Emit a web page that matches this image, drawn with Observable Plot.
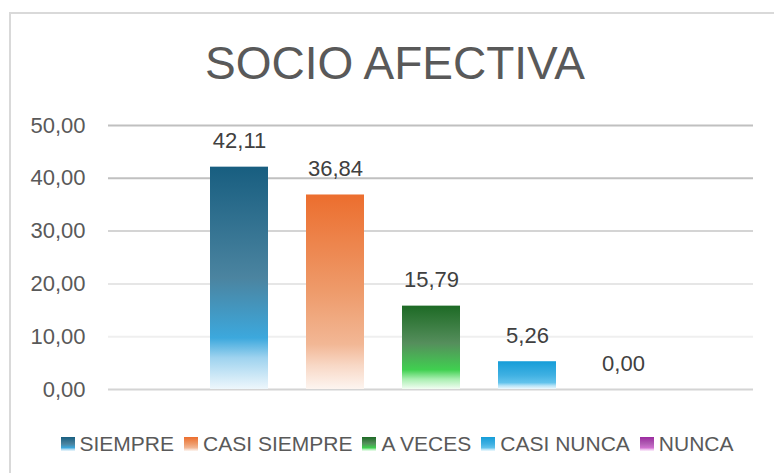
<!DOCTYPE html>
<html>
<head>
<meta charset="utf-8">
<script src="https://cdn.jsdelivr.net/npm/d3@7"></script>
<script src="https://cdn.jsdelivr.net/npm/@observablehq/plot@0.6"></script>
<style>
  body { margin: 0; background: #fff; font-family: "Liberation Sans", Arial, sans-serif; }
  #wrap { position: relative; width: 774px; height: 473px; overflow: hidden; background: #fff; }
  #frame { position: absolute; left: 9px; top: 12px; width: 800px; height: 500px;
           border-left: 2px solid #d9d9d9; border-top: 2px solid #d9d9d9; }
  #title { position: absolute; left: 9px; width: 772px; top: 41px; text-align: center;
           font-size: 46px; line-height: 45px; color: #595959; white-space: nowrap; }
  #chart { position: absolute; left: 0; top: 100px; }
  #legend { position: absolute; left: 9px; width: 776px; top: 433px; display: flex;
            justify-content: center; align-items: center; font-size: 21px; line-height: 21px;
            color: #595959; white-space: nowrap; }
  .item { display: flex; align-items: center; margin: 0 5px; }
  .sw { width: 14px; height: 14px; margin-right: 5px; }
</style>
</head>
<body>
<div id="wrap">
  <div id="frame"></div>
  <div id="title">SOCIO AFECTIVA</div>
  <div id="chart"></div>
  <div id="legend"></div>
</div>
<script>
// ---- data ----
const categories = ["SIEMPRE", "CASI SIEMPRE", "A VECES", "CASI NUNCA", "NUNCA"];
const values = [42.11, 36.84, 15.79, 5.26, 0.00];
const yTicks = [0, 10, 20, 30, 40, 50];

// ---- styles ----
const gradients = [
  [[0, "#185e80"], [0.5, "#4b84a0"], [0.77, "#3ca8dd"], [0.86, "#9fd3ef"], [1, "#eef7fc"]],
  [[0, "#ec6e2e"], [0.5, "#ee9b6b"], [0.77, "#f2b795"], [0.88, "#f8d8c6"], [1, "#fdf5f0"]],
  [[0, "#1d6a25"], [0.45, "#558e5c"], [0.77, "#40d050"], [0.88, "#a8eeb0"], [1, "#f2fdf3"]],
  [[0, "#159dd8"], [0.5, "#3fb0e2"], [0.77, "#62c3ec"], [0.88, "#b5e3f7"], [1, "#eef9fe"]],
  [[0, "#9c2ba0"], [0.5, "#b25fb5"], [0.77, "#d070d0"], [0.88, "#ebb8eb"], [1, "#fcf0fc"]]
];
const gridColor = d => d >= 40 ? "#c0c0c0" : d === 30 ? "#d4d4d4" : d === 20 ? "#e6e6e6" : d === 10 ? "#efefef" : "#d4d4d4";

const data = categories.map((c, i) => ({category: c, value: values[i]}));
const fmt = d => d.toFixed(2).replace(".", ",");
const gradIds = categories.map((c, i) => "grad" + i);

const chart = Plot.plot({
  width: 774,
  height: 320,
  marginTop: 25,
  marginBottom: 31,
  marginLeft: 108,
  marginRight: 21,
  style: {fontSize: "22px", fontFamily: "'Liberation Sans', Arial, sans-serif", color: "#595959", background: "transparent"},
  x: {domain: categories, range: [188.6, 672.4], paddingInner: 0.4, paddingOuter: 0.2, axis: null},
  y: {domain: [0, 50], axis: null},
  color: {domain: categories, range: gradIds.map(id => `url(#${id})`)},
  marks: [
    Plot.ruleY(yTicks, {y: d => d, stroke: d => gridColor(d), strokeWidth: 2}),
    Plot.axisY(yTicks, {tickSize: 0, tickPadding: 23, tickFormat: fmt, fill: "#595959", label: null}),
    Plot.barY(data, {x: "category", y: "value", fill: "category"}),
    Plot.text(data, {x: "category", y: "value", text: d => fmt(d.value), dy: -26, fill: "#404040"})
  ]
});

const defs = d3.select(chart).insert("defs", ":first-child");
gradients.forEach((stops, i) => {
  const g = defs.append("linearGradient").attr("id", gradIds[i])
    .attr("x1", 0).attr("y1", 0).attr("x2", 0).attr("y2", 1);
  stops.forEach(([o, c]) => g.append("stop").attr("offset", o).attr("stop-color", c));
});
document.getElementById("chart").appendChild(chart);

const legend = d3.select("#legend");
categories.forEach((c, i) => {
  const item = legend.append("div").attr("class", "item");
  item.append("div").attr("class", "sw")
    .style("background", "linear-gradient(to bottom, " + gradients[i].map(([o, col]) => `${col} ${o * 100}%`).join(", ") + ")");
  item.append("span").text(c);
});
</script>
</body>
</html>
